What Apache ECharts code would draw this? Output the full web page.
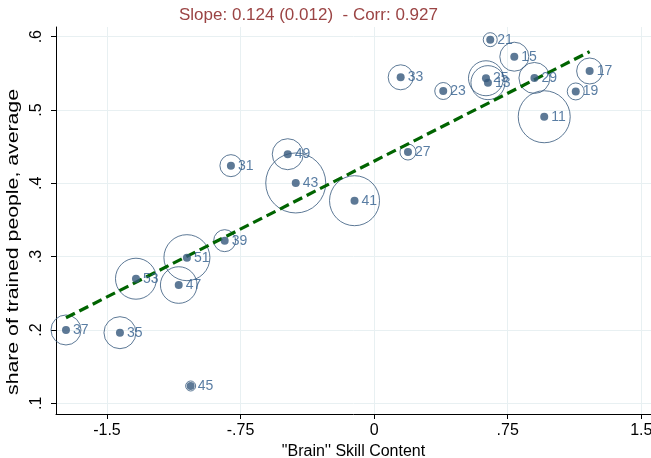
<!DOCTYPE html>
<html>
<head>
<meta charset="utf-8">
<script src="https://cdn.jsdelivr.net/npm/echarts@6/dist/echarts.min.js"></script>
<style>
html,body{margin:0;padding:0;background:#fff;}
#c{width:651px;height:458px;}
</style>
</head>
<body>
<div id="c"></div>
<script>
// ---- data ----
const ids    = ['21','15','33','23','25','13','29','17','19','11','27','31','49','43','41','39','51','53','47','37','35','45'];
const skill  = [0.652,0.787,0.149,0.388,0.628,0.639,0.900,1.210,1.132,0.955,0.190,-0.804,-0.485,-0.440,-0.110,-0.839,-1.051,-1.337,-1.097,-1.730,-1.427,-1.030];
const share  = [0.5959,0.5727,0.5446,0.5259,0.5433,0.5373,0.5437,0.5532,0.5253,0.4908,0.4427,0.4241,0.4397,0.4005,0.3763,0.3218,0.2986,0.2699,0.2613,0.2000,0.1963,0.1236];
const weight = [49,210,156,72,306,289,240,169,72,676,64,121,240,900,625,121,529,420,335,225,256,25];
const fitX   = [-1.730, 1.210];
const fitY   = [0.2166, 0.5796];
const xTicks = [-1.5,-0.75,0,0.75,1.5];
const xTickLabels = ['-1.5','-.75','0','.75','1.5'];
const yTicks = [0.1,0.2,0.3,0.4,0.5,0.6];
const yTickLabels = ['.1','.2','.3','.4','.5','.6'];
const titleText = 'Slope: 0.124 (0.012)  - Corr: 0.927';
const xName = '"Brain\'\' Skill Content';
const yName = 'share of trained people, average';

const FONT = 'Liberation Sans, Arial, sans-serif';
const NAVY = '#34587c';
const LABEL = '#2f5d8c';
const GRID = '#e8f0f2';

function lab(ticks, labels){
  return v => { const i = ticks.findIndex(t => Math.abs(t - v) < 1e-9); return i >= 0 ? labels[i] : ''; };
}

const pts = skill.map((x,i)=>[x, share[i], weight[i], ids[i]]);
const fit = fitX.map((x,i)=>[x, fitY[i]]);

const chart = echarts.init(document.getElementById('c'), null, {renderer:'canvas'});
chart.setOption({
  animation:false,
  backgroundColor:'#fff',
  title:{text:titleText, left:174, top:2,
    textStyle:{color:'#9b4444', fontSize:17, fontWeight:'normal', fontFamily:FONT}},
  grid:{left:56, right:0, top:27, bottom:44, containLabel:false, outerBoundsMode:'none'},
  graphic:[{type:'text', x:13, y:242, rotation:Math.PI/2, scaleX:1.25,
    style:{text:yName, fill:'#000', font:'17px ' + FONT, align:'center', verticalAlign:'middle'}}],
  xAxis:{type:'value', min:-1.786, max:1.5545,
    name:xName, nameLocation:'middle', nameGap:29,
    nameTextStyle:{color:'#000', fontSize:16, fontFamily:FONT},
    axisLine:{onZero:false, lineStyle:{color:'#000', width:1}},
    axisTick:{customValues:xTicks, length:5, lineStyle:{color:'#000'}},
    axisLabel:{customValues:xTicks, formatter:lab(xTicks,xTickLabels), color:'#000', fontSize:16, fontFamily:FONT, margin:9},
    splitLine:{show:true, lineStyle:{color:GRID, width:1}}},
  yAxis:{type:'value', min:0.0854, max:0.6132,
    axisLine:{show:true, onZero:false, lineStyle:{color:'#000', width:1}},
    axisTick:{show:true, customValues:yTicks, length:5, lineStyle:{color:'#000'}},
    axisLabel:{customValues:yTicks, formatter:lab(yTicks,yTickLabels), rotate:90, color:'#000', fontSize:16, fontFamily:FONT, margin:11},
    splitLine:{show:true, lineStyle:{color:GRID, width:1}}},
  series:[
    {type:'scatter', data:pts, symbol:'circle',
      symbolSize: d => 2*Math.sqrt(d[2]),
      itemStyle:{color:'rgba(0,0,0,0)', borderColor:NAVY, borderWidth:1}, z:2},
    {type:'line', data:fit, symbol:'none',
      lineStyle:{color:'#006400', width:3.2, type:[10,5]}, z:3},
    {type:'scatter', data:pts, symbol:'circle', symbolSize:8,
      itemStyle:{color:NAVY},
      label:{show:true, position:'right', distance:3, formatter:p=>p.data[3],
        color:LABEL, fontSize:14, fontFamily:FONT}, z:4}
  ]
});
</script>
</body>
</html>
